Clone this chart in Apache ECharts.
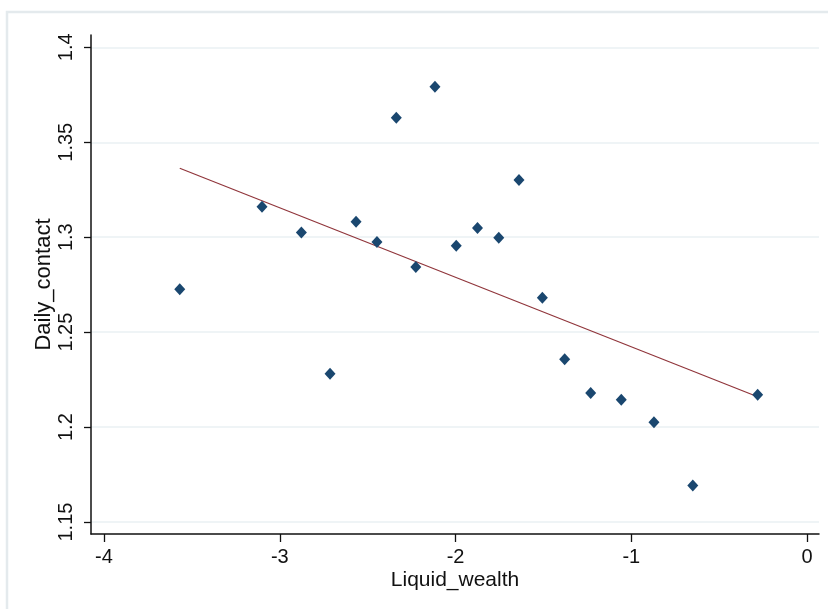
<!DOCTYPE html>
<html>
<head>
<meta charset="utf-8">
<script src="https://cdn.jsdelivr.net/npm/echarts@6/dist/echarts.min.js"></script>
<style>
html,body{margin:0;padding:0;background:#fff;}
#chart{width:828px;height:609px;}
</style>
</head>
<body>
<div id="chart"></div>
<script>
// Scatter data
const liquidWealth = [-3.569, -3.101, -2.877, -2.714, -2.566, -2.447, -2.337, -2.226, -2.117, -1.996,
                      -1.875, -1.754, -1.639, -1.506, -1.379, -1.231, -1.057, -0.871, -0.650, -0.281];
const dailyContact = [1.2726, 1.3161, 1.3025, 1.2281, 1.3082, 1.2975, 1.3629, 1.2843, 1.3793, 1.2955,
                      1.3049, 1.2997, 1.3301, 1.2681, 1.2357, 1.2179, 1.2144, 1.2025, 1.1693, 1.2170];
// Fitted line endpoints
const fitX = [-3.569, -0.281];
const fitY = [1.3363, 1.2160];
// Axis ticks
const xTicks = [-4, -3, -2, -1, 0];
const yTicks = [1.15, 1.2, 1.25, 1.3, 1.35, 1.4];
const xRange = [-4.074, 0.068];
const yRange = [1.1437, 1.4065];

const font = "'Liberation Sans', Arial, sans-serif";
const chart = echarts.init(document.getElementById('chart'), null, {renderer: 'canvas'});
chart.setOption({
  backgroundColor: '#ffffff',
  animation: false,
  graphic: [{
    type: 'rect', silent: true, z: -10,
    shape: {x: 7, y: 12, width: 840, height: 620},
    style: {fill: '#ffffff', stroke: '#e4eaed', lineWidth: 2.5}
  }],
  grid: {left: 91, right: 9, top: 35, bottom: 75, containLabel: false},
  xAxis: {
    type: 'value', min: xRange[0], max: xRange[1],
    minInterval: 1, maxInterval: 1,
    name: 'Liquid_wealth', nameLocation: 'middle', nameGap: 36, nameMoveOverlap: false,
    nameTextStyle: {fontFamily: font, fontSize: 21, color: '#111'},
    axisLine: {show: true, onZero: false, lineStyle: {color: '#111', width: 1.5}},
    axisTick: {show: true, length: 8, lineStyle: {color: '#111', width: 1.3}, customValues: xTicks},
    axisLabel: {fontFamily: font, fontSize: 20, color: '#111', margin: 13, customValues: xTicks,
                formatter: v => String(v)},
    splitLine: {show: false}
  },
  yAxis: {
    type: 'value', min: yRange[0], max: yRange[1],
    minInterval: 0.05, maxInterval: 0.05,
    name: 'Daily_contact', nameLocation: 'middle', nameGap: 36, nameRotate: 90, nameMoveOverlap: false,
    nameTextStyle: {fontFamily: font, fontSize: 22, color: '#111'},
    axisLine: {show: true, onZero: false, lineStyle: {color: '#111', width: 1.5}},
    axisTick: {show: true, length: 7, lineStyle: {color: '#111', width: 1.3}, customValues: yTicks},
    axisLabel: {fontFamily: font, fontSize: 20, color: '#111', margin: 15, rotate: 90, customValues: yTicks,
                formatter: v => String(+(+v).toFixed(2))},
    splitLine: {show: true, lineStyle: {color: '#eaf1f3', width: 1.5}}
  },
  series: [
    {
      type: 'scatter', name: 'Daily_contact',
      symbol: 'diamond', symbolSize: [11, 12],
      itemStyle: {color: '#1a476f', opacity: 1},
      data: liquidWealth.map((x, i) => [x, dailyContact[i]]),
      z: 3
    },
    {
      type: 'line', name: 'Fitted values',
      showSymbol: false, symbol: 'none',
      lineStyle: {color: '#90353b', width: 1.2},
      data: fitX.map((x, i) => [x, fitY[i]]),
      z: 2
    }
  ]
});
</script>
</body>
</html>
